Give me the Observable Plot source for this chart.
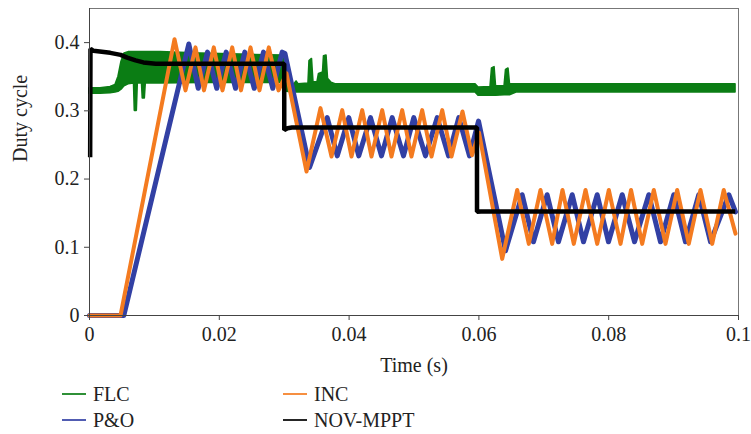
<!DOCTYPE html>
<html>
<head>
<meta charset="utf-8">
<script src="https://cdn.jsdelivr.net/npm/d3@7"></script>
<script src="https://cdn.jsdelivr.net/npm/@observablehq/plot@0.6"></script>
<style>
  html, body { margin: 0; padding: 0; background: #fff; }
  #legend { position: relative; width: 751px; height: 54px; font-family: 'Liberation Serif', serif; font-size: 20px; color: #222; }
  .item { position: absolute; display: flex; align-items: center; height: 24px; white-space: nowrap; }
  .sw { display: inline-block; width: 24px; height: 2px; margin-right: 7px; opacity: 0.85; }
</style>
</head>
<body>
<div id="chart"></div>
<div id="legend"></div>
<script>
// ---- data ----
const seriesNames = ["FLC", "P&O", "INC", "NOV-MPPT"];
const seriesColors = ["#0b7d14", "#3240a4", "#f47b20", "#000000"];

const xTicks = [0, 0.02, 0.04, 0.06, 0.08, 0.1];
const xTickLabels = ["0", "0.02", "0.04", "0.06", "0.08", "0.1"];
const yTicks = [0, 0.1, 0.2, 0.3, 0.4];
const yTickLabels = ["0", "0.1", "0.2", "0.3", "0.4"];

// FLC: band (lower / upper envelope of the fast oscillation)
const flcT  = [0, 0.00169, 0.00324, 0.0040, 0.00447, 0.00493, 0.00539, 0.00601, 0.00686, 0.00698, 0.00729, 0.00744, 0.00809, 0.00821, 0.00852, 0.00867, 0.01094, 0.0171, 0.02481, 0.02989, 0.03035, 0.03159, 0.0319, 0.0322, 0.03374, 0.0339, 0.03428, 0.03451, 0.03513, 0.03536, 0.03598, 0.03613, 0.03652, 0.03675, 0.03729, 0.0379, 0.05948, 0.05994, 0.06179, 0.06202, 0.06241, 0.06264, 0.06395, 0.06418, 0.06456, 0.06479, 0.06579, 0.09954];
const flcLo = [0.325, 0.325, 0.326, 0.327, 0.328, 0.331, 0.336, 0.339, 0.340, 0.300, 0.300, 0.340, 0.340, 0.318, 0.318, 0.340, 0.340, 0.341, 0.341, 0.341, 0.328, 0.327, 0.327, 0.327, 0.327, 0.327, 0.327, 0.327, 0.327, 0.327, 0.327, 0.327, 0.327, 0.327, 0.327, 0.327, 0.327, 0.322, 0.322, 0.322, 0.322, 0.322, 0.323, 0.323, 0.323, 0.323, 0.327, 0.327];
const flcHi = [0.333, 0.333, 0.335, 0.338, 0.350, 0.372, 0.384, 0.386, 0.386, 0.386, 0.386, 0.386, 0.386, 0.386, 0.386, 0.386, 0.386, 0.384, 0.382, 0.381, 0.340, 0.339, 0.343, 0.339, 0.340, 0.373, 0.376, 0.342, 0.342, 0.354, 0.356, 0.380, 0.381, 0.347, 0.341, 0.339, 0.339, 0.334, 0.335, 0.362, 0.364, 0.336, 0.336, 0.360, 0.362, 0.339, 0.339, 0.339];

// P&O
const poT = [0, 0.00529, 0.0153, 0.01675, 0.01818, 0.01961, 0.02106, 0.0225, 0.02393, 0.02538, 0.02681, 0.02824, 0.02969, 0.03012, 0.0339, 0.03663, 0.03818, 0.03995, 0.04149, 0.0433, 0.04499, 0.04664, 0.04838, 0.04997, 0.05177, 0.05357, 0.05532, 0.0569, 0.05855, 0.05994, 0.0641, 0.06667, 0.06841, 0.07052, 0.07226, 0.07438, 0.07612, 0.07823, 0.07997, 0.08208, 0.08398, 0.08618, 0.08798, 0.09003, 0.09183, 0.09388, 0.09569, 0.09851, 0.09954];
const poV = [0, 0, 0.398, 0.333, 0.386, 0.333, 0.386, 0.333, 0.386, 0.333, 0.386, 0.333, 0.386, 0.384, 0.217, 0.290, 0.234, 0.290, 0.234, 0.290, 0.234, 0.290, 0.234, 0.290, 0.234, 0.290, 0.234, 0.290, 0.234, 0.285, 0.095, 0.177, 0.108, 0.177, 0.108, 0.177, 0.108, 0.177, 0.108, 0.177, 0.108, 0.177, 0.108, 0.177, 0.108, 0.177, 0.108, 0.177, 0.152];

// INC
const incT = [0, 0.00478, 0.0131, 0.01479, 0.01633, 0.01764, 0.01915, 0.02049, 0.02199, 0.02334, 0.02481, 0.02619, 0.02763, 0.02912, 0.03035, 0.03344, 0.03559, 0.03729, 0.03894, 0.04037, 0.04202, 0.04345, 0.0451, 0.04653, 0.04818, 0.04961, 0.05126, 0.0527, 0.05435, 0.05578, 0.05747, 0.05894, 0.06002, 0.06359, 0.0659, 0.06769, 0.06949, 0.07129, 0.07288, 0.07462, 0.07643, 0.07823, 0.08002, 0.08182, 0.08344, 0.08516, 0.08695, 0.08875, 0.09055, 0.09234, 0.09414, 0.09595, 0.09773, 0.09954];
const incV = [0, 0, 0.405, 0.330, 0.393, 0.330, 0.393, 0.330, 0.393, 0.330, 0.393, 0.330, 0.393, 0.330, 0.355, 0.211, 0.304, 0.233, 0.301, 0.233, 0.301, 0.233, 0.301, 0.233, 0.301, 0.233, 0.301, 0.233, 0.301, 0.233, 0.299, 0.235, 0.268, 0.083, 0.184, 0.105, 0.184, 0.105, 0.184, 0.105, 0.184, 0.105, 0.184, 0.105, 0.184, 0.105, 0.184, 0.105, 0.184, 0.105, 0.184, 0.105, 0.184, 0.120];

// NOV-MPPT
const novT = [0.0001, 0.00015, 0.0006, 0.0032, 0.0048, 0.0058, 0.0071, 0.0083, 0.0102, 0.0300, 0.03001, 0.0305, 0.0312, 0.0597, 0.05971, 0.0603, 0.0995];
const novV = [0.232, 0.391, 0.388, 0.385, 0.382, 0.378, 0.374, 0.371, 0.369, 0.369, 0.272, 0.2745, 0.2755, 0.2755, 0.152, 0.1525, 0.1525];

// ---- tables built from the arrays ----
const flc = flcT.map((t, i) => ({t, lo: flcLo[i], hi: flcHi[i]}));
const po  = poT.map((t, i) => ({t, v: poV[i]}));
const inc = incT.map((t, i) => ({t, v: incV[i]}));
const nov = novT.map((t, i) => ({t, v: novV[i]}));

const font = "'Liberation Serif', serif";
const chart = Plot.plot({
  width: 751,
  height: 380,
  marginTop: 8,
  marginRight: 13,
  marginBottom: 65,
  marginLeft: 89,
  style: {fontFamily: font, fontSize: "20px", color: "#222", background: "#fff"},
  x: {domain: [0, 0.1], label: null},
  y: {domain: [0, 0.45], label: null},
  marks: [
    Plot.frame({stroke: "#777", strokeWidth: 1}),
    Plot.areaY(flc, {x: "t", y1: "lo", y2: "hi", fill: seriesColors[0], stroke: seriesColors[0], strokeWidth: 1.6, strokeLinejoin: "round"}),
    Plot.line(po, {x: "t", y: "v", stroke: seriesColors[1], strokeWidth: 5}),
    Plot.line(inc, {x: "t", y: "v", stroke: seriesColors[2], strokeWidth: 4}),
    Plot.line(nov, {x: "t", y: "v", stroke: seriesColors[3], strokeWidth: 4.5, strokeLinejoin: "miter", strokeLinecap: "butt"}),
    Plot.ruleY([0], {stroke: "#444"}),
    Plot.ruleX([0], {stroke: "#444"}),
    Plot.axisX({ticks: xTicks, tickFormat: d => xTickLabels[xTicks.indexOf(d)], tickSize: 5, tickPadding: 6, stroke: "#444", fontSize: 20, fill: "#222", label: null}),
    Plot.axisY({ticks: yTicks, tickFormat: d => yTickLabels[yTicks.indexOf(d)], tickSize: 5, tickPadding: 5, stroke: "#444", fontSize: 20, fill: "#222", label: null}),
    Plot.text(["Time (s)"], {text: d => d, frameAnchor: "bottom", dy: 56, fontSize: 20, fill: "#222"}),
    Plot.text(["Duty cycle"], {text: d => d, frameAnchor: "left", dx: -69, rotate: -90, fontSize: 20, fill: "#222"})
  ]
});
document.getElementById("chart").appendChild(chart);

// ---- legend ----
const legendPos = [[62, 2], [62, 28], [283, 2], [283, 28]];
const legendOrder = [0, 1, 2, 3];
const legend = document.getElementById("legend");
legendOrder.forEach((k, j) => {
  const el = document.createElement("div");
  el.className = "item";
  el.style.left = legendPos[j][0] + "px";
  el.style.top = legendPos[j][1] + "px";
  const sw = document.createElement("span");
  sw.className = "sw";
  sw.style.background = seriesColors[k];
  const tx = document.createElement("span");
  tx.textContent = seriesNames[k];
  el.appendChild(sw);
  el.appendChild(tx);
  legend.appendChild(el);
});
</script>
</body>
</html>
